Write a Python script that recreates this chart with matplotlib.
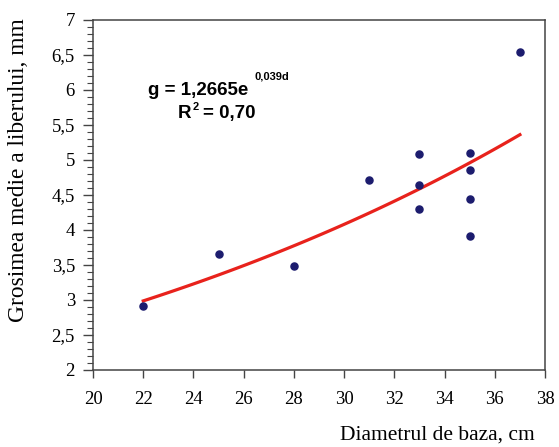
import numpy as np
import matplotlib.pyplot as plt
from matplotlib.ticker import MultipleLocator, FuncFormatter

# diametrul de baza (cm) si grosimea medie a liberului (mm)
diam = [22, 25, 28, 31, 33, 33, 33, 35, 35, 35, 35, 37]
gros = [2.91, 3.66, 3.49, 4.71, 5.09, 4.64, 4.30, 5.10, 4.86, 4.44, 3.91, 6.54]

# trend exponential g = a * e^(b*d)
a_coef = 1.2665
b_coef = 0.039
x_ticks = [20, 22, 24, 26, 28, 30, 32, 34, 36, 38]
y_ticks = [2, 2.5, 3, 3.5, 4, 4.5, 5, 5.5, 6, 6.5, 7]

fig = plt.figure(figsize=(5.59, 4.47), dpi=100)
ax = fig.add_axes([0.1664, 0.1723, 0.8086, 0.783])

d = np.linspace(min(diam), max(diam), 100)
ax.plot(d, a_coef * np.exp(b_coef * d), color='#e8221c', lw=2.3, zorder=2)
ax.scatter(diam, gros, s=26, color='#1c1c6e', zorder=3)

ax.set_xlim(20, 38)
ax.set_ylim(2, 7)
ax.set_xticks(x_ticks)
ax.set_yticks(y_ticks)
ax.yaxis.set_minor_locator(MultipleLocator(0.1))
ax.yaxis.set_major_formatter(FuncFormatter(lambda v, p: ('%g' % v).replace('.', ',')))

serif = 'Liberation Serif'
for lab in ax.get_xticklabels() + ax.get_yticklabels():
    lab.set_fontfamily(serif)
    lab.set_fontsize(13.5)
ax.tick_params(axis='x', direction='out', length=6, width=1, pad=9, color='#444444')
ax.tick_params(axis='y', which='major', direction='out', length=7, width=1, pad=6, color='#444444')
ax.tick_params(axis='y', which='minor', direction='out', length=4, width=0.8, color='#444444')
for sp in ax.spines.values():
    sp.set_color('#444444')
    sp.set_linewidth(1.1)

ax.set_xlabel('Diametrul de baza, cm', fontfamily=serif, fontsize=15.5)
ax.xaxis.set_label_coords(0.978, -0.2)
ax.xaxis.label.set_horizontalalignment('right')
ax.xaxis.label.set_verticalalignment('baseline')
ax.set_ylabel('Grosimea medie a liberului, mm', fontfamily=serif, fontsize=16.8)
ax.yaxis.set_label_coords(-0.142, 0.572)

sans = 'Liberation Sans'
ax.text(0.1217, 0.786, 'g = 1,2665e', transform=ax.transAxes, fontfamily=sans,
        fontweight='bold', fontsize=13.5, ha='left', va='baseline')
ax.text(0.358, 0.829, '0,039d', transform=ax.transAxes, fontfamily=sans,
        fontweight='bold', fontsize=8, ha='left', va='baseline')
ax.text(0.188, 0.72, 'R', transform=ax.transAxes, fontfamily=sans,
        fontweight='bold', fontsize=13.5, ha='left', va='baseline')
ax.text(0.221, 0.743, '2', transform=ax.transAxes, fontfamily=sans,
        fontweight='bold', fontsize=8, ha='left', va='baseline')
ax.text(0.243, 0.72, '= 0,70', transform=ax.transAxes, fontfamily=sans,
        fontweight='bold', fontsize=13.5, ha='left', va='baseline')

fig.savefig('out.png', dpi=100)
